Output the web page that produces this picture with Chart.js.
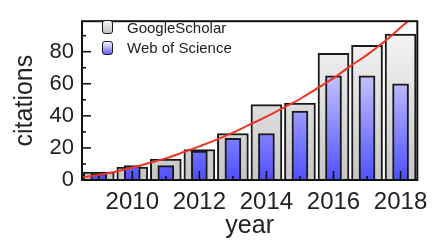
<!DOCTYPE html>
<html>
<head>
<meta charset="utf-8">
<script src="https://cdn.jsdelivr.net/npm/chart.js@4.4.1/dist/chart.umd.min.js"></script>
<style>
  html, body { margin: 0; padding: 0; background: #fff; }
  #wrap { position: relative; width: 436px; height: 241px; }
  .legend { position: absolute; left: 102px; top: 17px; font: 15px "Liberation Sans", Arial, sans-serif; color: #222; }
  .legend .row { display: flex; align-items: center; height: 20.5px; }
  .legend .box { width: 9px; height: 12px; border: 1.5px solid #1a1a1a; border-radius: 3px; margin-right: 14px; }
  .legend .gs { background: linear-gradient(#f4f4f4, #c4c4c4); }
  .legend .wos { background: linear-gradient(#f4f4ff, #6464ff); }
</style>
</head>
<body>
<div id="wrap">
  <canvas id="chart" width="436" height="241"></canvas>
  <div class="legend">
    <div class="row"><span class="box gs"></span>GoogleScholar</div>
    <div class="row"><span class="box wos"></span>Web of Science</div>
  </div>
</div>
<script>
const years = [2009, 2010, 2011, 2012, 2013, 2014, 2015, 2016, 2017, 2018]
const googleScholar = [5, 8, 13, 19, 29, 47, 48, 79, 84, 91]
const webOfScience = [4, 9, 9, 18, 26, 29, 43, 65, 65, 60]

// red trend curve
const fitYears = [2008.5, 2009, 2009.5, 2010, 2010.5, 2011, 2011.5, 2012, 2012.5, 2013, 2013.5,
  2014, 2014.5, 2015, 2015.5, 2016, 2016.5, 2017, 2017.5, 2018, 2018.5]
const fitValues = [1.7, 3.2, 5.2, 7.6, 10.6, 13.5, 17.2, 21, 25, 29.5, 34.5,
  39.5, 45, 50.5, 57, 63.5, 71, 78, 86, 95, 104]

const xTickYears = [2010, 2012, 2014, 2016, 2018]
const yTickValues = [0, 20, 40, 60, 80]
const yMinorTicks = [10, 30, 50, 70, 90]

const font = "'Liberation Sans', Arial, sans-serif"
const ink = "#222"

function vGradient(chart, bottomColor, topColor) {
  const a = chart.chartArea
  if (!a) return bottomColor
  const g = chart.ctx.createLinearGradient(0, a.bottom, 0, a.top)
  g.addColorStop(0, bottomColor)
  g.addColorStop(1, topColor)
  return g
}

const frameTicks = {
  id: "frameTicks",
  afterDatasetsDraw(chart) {
    const { ctx, chartArea: a, scales: { x, y } } = chart
    ctx.save()
    ctx.strokeStyle = "#111"
    ctx.lineWidth = 1.6
    years.forEach(yr => {
      const px = x.getPixelForValue(yr)
      const len = xTickYears.includes(yr) ? 9 : 4
      ctx.beginPath(); ctx.moveTo(px, a.bottom); ctx.lineTo(px, a.bottom - len); ctx.stroke()
    })
    yTickValues.forEach(v => {
      const py = y.getPixelForValue(v)
      ctx.beginPath(); ctx.moveTo(a.left, py); ctx.lineTo(a.left + 9, py); ctx.stroke()
    })
    yMinorTicks.forEach(v => {
      const py = y.getPixelForValue(v)
      ctx.beginPath(); ctx.moveTo(a.left, py); ctx.lineTo(a.left + 4, py); ctx.stroke()
    })
    ctx.lineWidth = 2
    ctx.strokeRect(a.left, a.top, a.right - a.left, a.bottom - a.top)
    ctx.restore()
  }
}

new Chart(document.getElementById("chart"), {
  data: {
    datasets: [
      {
        type: "line",
        label: "fit",
        data: fitYears.map((yr, i) => ({ x: yr, y: fitValues[i] })),
        borderColor: "#ee3524",
        borderWidth: 2,
        pointRadius: 0,
        tension: 0.4,
        order: 0
      },
      {
        type: "bar",
        label: "Web of Science",
        data: years.map((yr, i) => ({ x: yr, y: webOfScience[i] })),
        backgroundColor: c => vGradient(c.chart, "#4f4fff", "#ffffff"),
        borderColor: "#1a1a1a",
        borderWidth: 2,
        barThickness: 16,
        grouped: false,
        order: 1
      },
      {
        type: "bar",
        label: "GoogleScholar",
        data: years.map((yr, i) => ({ x: yr, y: googleScholar[i] })),
        backgroundColor: c => vGradient(c.chart, "#c6c6c6", "#f8f8f8"),
        borderColor: "#1a1a1a",
        borderWidth: 2,
        barThickness: 31,
        grouped: false,
        order: 2
      }
    ]
  },
  options: {
    responsive: false,
    devicePixelRatio: 1,
    animation: false,
    layout: { padding: { top: 8, right: 15, left: 0, bottom: 0 } },
    plugins: { legend: { display: false }, tooltip: { enabled: false } },
    scales: {
      x: {
        type: "linear",
        min: 2008.5,
        max: 2018.5,
        offset: false,
        grid: { display: false, drawTicks: false, offset: false },
        border: { display: false },
        afterBuildTicks: s => { s.ticks = xTickYears.map(v => ({ value: v })) },
        afterFit: s => { s.height = 61 },
        ticks: { font: { family: font, size: 24 }, color: ink, padding: 8, maxRotation: 0, autoSkip: false, callback: v => String(v) },
        title: { display: true, text: "year", font: { family: font, size: 25 }, color: ink, padding: { top: 0, bottom: 0 } }
      },
      y: {
        min: 0,
        max: 99,
        grid: { display: false, drawTicks: false },
        border: { display: false },
        afterBuildTicks: s => { s.ticks = yTickValues.map(v => ({ value: v })) },
        afterFit: s => { s.width = 82 },
        ticks: { font: { family: font, size: 22 }, color: ink, padding: 8 },
        title: { display: true, text: "citations", font: { family: font, size: 25 }, color: ink, padding: { top: 10, bottom: 0 } }
      }
    }
  },
  plugins: [frameTicks]
})
</script>
</body>
</html>
